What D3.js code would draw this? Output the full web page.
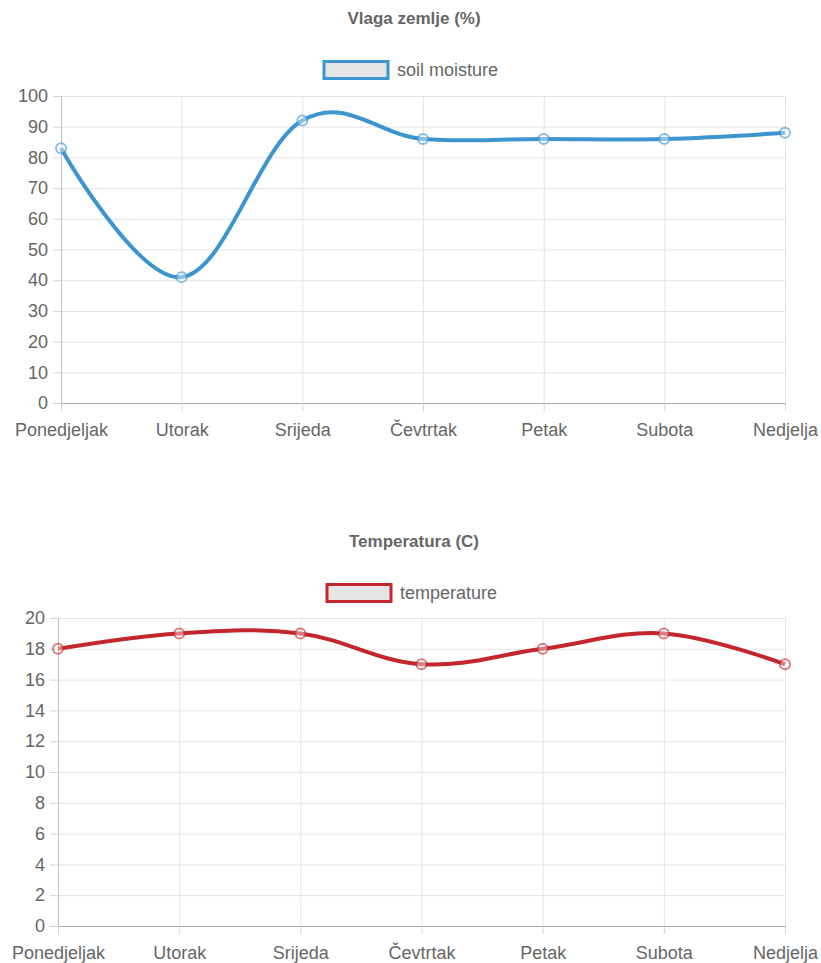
<!DOCTYPE html>
<html>
<head>
<meta charset="utf-8">
<script src="https://cdn.jsdelivr.net/npm/d3@7"></script>
<style>
  body { margin: 0; background: #fff; font-family: "Liberation Sans", Arial, sans-serif; }
  .grid line { stroke: #e5e5e5; }
  .grid .domain { display: none; }
  text { fill: #666; }
</style>
</head>
<body>
<svg id="chart" width="821" height="963"></svg>
<script>
const days = ['Ponedjeljak', 'Utorak', 'Srijeda', 'Čevtrtak', 'Petak', 'Subota', 'Nedjelja'];
const soilMoisture = [83, 41, 92, 86, 86, 86, 88];
const temperature = [18, 19, 19, 17, 18, 19, 17];
const soilTicks = [0, 10, 20, 30, 40, 50, 60, 70, 80, 90, 100];
const tempTicks = [0, 2, 4, 6, 8, 10, 12, 14, 16, 18, 20];

const svg = d3.select('#chart');

// one chart.js-like panel
function drawPanel(cfg) {
  const g = svg.append('g');

  const x = d3.scalePoint().domain(days).range([cfg.left, cfg.right]);
  const y = d3.scaleLinear().domain([0, cfg.max]).range([cfg.bottom, cfg.top]);

  g.append('text')
    .attr('x', 414)
    .attr('y', cfg.titleY)
    .attr('text-anchor', 'middle')
    .style('font-weight', 'bold')
    .style('font-size', '17px')
    .text(cfg.title);

  // legend
  const boxW = 64;
  const lx = cfg.legendX;
  g.append('rect')
    .attr('x', lx)
    .attr('y', cfg.legendY - 8.5)
    .attr('width', boxW)
    .attr('height', 17)
    .attr('fill', '#e5e5e5')
    .attr('stroke', cfg.color)
    .attr('stroke-width', 3);
  g.append('text')
    .attr('x', lx + boxW + 9)
    .attr('y', cfg.legendY)
    .attr('dy', '0.35em')
    .style('font-size', '18px')
    .text(cfg.label);

  // grid
  g.append('g')
    .attr('class', 'grid')
    .attr('transform', `translate(${cfg.left},0)`)
    .call(d3.axisLeft(y).tickValues(cfg.ticks).tickSize(-(cfg.right - cfg.left)).tickFormat(''));
  g.append('g')
    .attr('class', 'grid')
    .attr('transform', `translate(0,${cfg.top})`)
    .call(d3.axisBottom(x).tickSize(cfg.bottom - cfg.top).tickFormat(''));

  // y axis
  const yAxis = g.append('g')
    .attr('transform', `translate(${cfg.left},0)`)
    .call(d3.axisLeft(y).tickValues(cfg.ticks).tickSize(8).tickPadding(5));
  yAxis.select('.domain').attr('stroke', '#bfbfbf');
  yAxis.selectAll('.tick line').attr('stroke', '#d5d5d5');
  yAxis.selectAll('text').style('font-size', '18px').attr('fill', '#666');

  // x axis
  const xAxis = g.append('g')
    .attr('transform', `translate(0,${cfg.bottom})`)
    .call(d3.axisBottom(x).tickSize(8).tickPadding(12));
  xAxis.select('.domain').attr('stroke', '#a8a8a8');
  xAxis.selectAll('.tick line').attr('stroke', '#d5d5d5');
  xAxis.selectAll('text').style('font-size', '18px').attr('fill', '#666');
  g.selectAll('.tick text').style('font-family', '"Liberation Sans", Arial, sans-serif');

  const line = d3.line()
    .x((d, i) => x(days[i]))
    .y(d => y(d))
    .curve(d3.curveCardinal.tension(-0.1));

  g.append('path')
    .datum(cfg.values)
    .attr('fill', 'none')
    .attr('stroke', cfg.color)
    .attr('stroke-width', 4)
    .attr('d', line);

  g.selectAll('.pt')
    .data(cfg.values)
    .enter()
    .append('circle')
    .attr('class', 'pt')
    .attr('cx', (d, i) => x(days[i]))
    .attr('cy', d => y(d))
    .attr('r', 5)
    .attr('fill', 'rgba(255,255,255,0.4)')
    .attr('stroke', cfg.color)
    .attr('stroke-opacity', 0.6)
    .attr('stroke-width', 2);
}

drawPanel({
  title: 'Vlaga zemlje (%)',
  label: 'soil moisture',
  values: soilMoisture,
  ticks: soilTicks,
  max: 100,
  color: '#3d95cf',
  titleY: 24,
  legendX: 324,
  legendY: 70,
  left: 61,
  right: 785,
  top: 96,
  bottom: 403
});

drawPanel({
  title: 'Temperatura (C)',
  label: 'temperature',
  values: temperature,
  ticks: tempTicks,
  max: 20,
  color: '#c4262e',
  titleY: 547,
  legendX: 327,
  legendY: 593,
  left: 58,
  right: 785,
  top: 618,
  bottom: 926
});
</script>
</body>
</html>
